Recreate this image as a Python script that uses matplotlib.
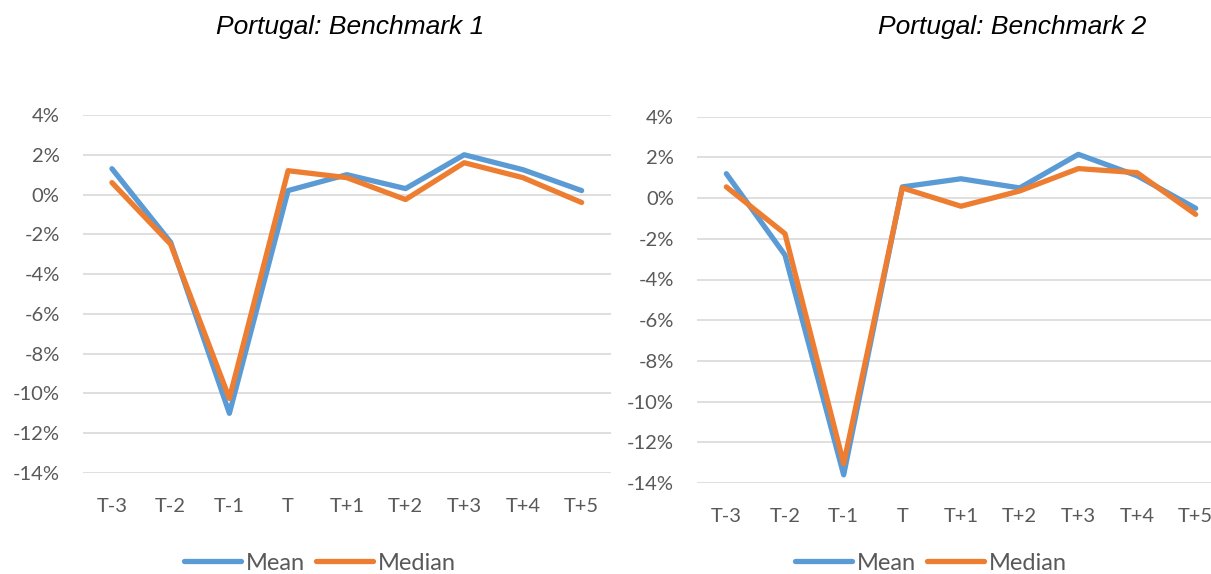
import matplotlib
matplotlib.use("Agg")
import matplotlib.pyplot as plt
from matplotlib.ticker import FuncFormatter

# Data (values in %)
periods = ["T-3", "T-2", "T-1", "T", "T+1", "T+2", "T+3", "T+4", "T+5"]

b1_mean = [1.3, -2.4, -11.0, 0.2, 1.0, 0.3, 2.0, 1.25, 0.2]
b1_median = [0.6, -2.5, -10.25, 1.2, 0.85, -0.25, 1.6, 0.85, -0.4]

b2_mean = [1.2, -2.8, -13.6, 0.55, 0.95, 0.5, 2.15, 1.1, -0.5]
b2_median = [0.55, -1.75, -13.05, 0.5, -0.4, 0.35, 1.45, 1.25, -0.8]

titles = ["Portugal: Benchmark 1", "Portugal: Benchmark 2"]

BLUE = "#5B9BD5"
ORANGE = "#ED7D31"
GREY = "#595959"
W, H = 1211, 574

fig = plt.figure(figsize=(W / 100, H / 100), dpi=100)

# axes boxes in pixels: left, right, top, bottom
boxes = [(82.6, 611, 115, 473), (697, 1225, 116.7, 483)]
title_x = [350, 1012]
legend_x = [320, 931]

panels = [(b1_mean, b1_median), (b2_mean, b2_median)]

for i, (mean, median) in enumerate(panels):
    l, r, t, b = boxes[i]
    ax = fig.add_axes([l / W, 1 - b / H, (r - l) / W, (b - t) / H])
    x = range(len(periods))
    ax.plot(x, mean, color=BLUE, lw=3.8, solid_capstyle="round",
            solid_joinstyle="round", label="Mean", zorder=3)
    ax.plot(x, median, color=ORANGE, lw=3.8, solid_capstyle="round",
            solid_joinstyle="round", label="Median", zorder=4)

    ax.set_xlim(-0.5, len(periods) - 0.5)
    ax.set_ylim(-14, 4)
    ax.set_yticks(range(-14, 5, 2))
    ax.yaxis.set_major_formatter(FuncFormatter(lambda v, p: f"{v:.0f}%"))
    ax.set_xticks(list(x))
    ax.set_xticklabels(periods)
    ax.grid(axis="y", color="#D9D9D9", lw=1.2)
    ax.set_axisbelow(True)
    for s in ax.spines.values():
        s.set_visible(False)
    ax.tick_params(length=0, labelsize=14.5, labelcolor=GREY)
    ax.tick_params(axis="y", pad=16.5)
    ax.tick_params(axis="x", pad=18)
    for lab in ax.get_xticklabels() + ax.get_yticklabels():
        lab.set_family("Lato")

    fig.text(title_x[i] / W, 1 - 27 / H, titles[i], ha="center", va="center",
             fontsize=19, style="italic", family="Liberation Sans", color="black")

    leg = fig.legend(handles=ax.get_lines(), loc="center",
                     bbox_to_anchor=(legend_x[i] / W, 1 - 563 / H), ncol=2,
                     frameon=False, prop={"family": "Lato", "size": 17},
                     handlelength=2.4, handletextpad=0.2, columnspacing=0.5,
                     borderaxespad=0, borderpad=0)
    for txt in leg.get_texts():
        txt.set_color(GREY)

fig.savefig("out.png", dpi=100)
